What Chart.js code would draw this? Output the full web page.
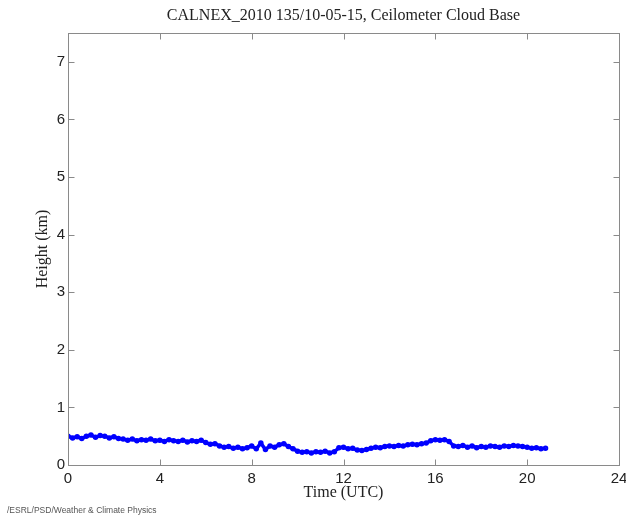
<!DOCTYPE html>
<html>
<head>
<meta charset="utf-8">
<title>CALNEX_2010 Ceilometer Cloud Base</title>
<script src="https://cdn.jsdelivr.net/npm/chart.js@4/dist/chart.umd.min.js"></script>
<style>
  html, body { margin: 0; padding: 0; background: #fff; }
  #wrap { width: 626px; height: 519px; position: relative; }
</style>
</head>
<body>
<div id="wrap"><canvas id="cloudBase"></canvas></div>
<script>
"use strict";

const titleText = "CALNEX_2010 135/10-05-15, Ceilometer Cloud Base";
const footerText = "/ESRL/PSD/Weather & Climate Physics";

// hours (UTC)
const timeUtc = [
  0.0, 0.2, 0.4, 0.6, 0.8, 1.0, 1.2, 1.4, 1.6, 1.8,
  2.0, 2.2, 2.4, 2.6, 2.8, 3.0, 3.2, 3.4, 3.6, 3.8,
  4.0, 4.2, 4.4, 4.6, 4.8, 5.0, 5.2, 5.4, 5.6, 5.8,
  6.0, 6.2, 6.4, 6.6, 6.8, 7.0, 7.2, 7.4, 7.6, 7.8,
  8.0, 8.2, 8.4, 8.6, 8.8, 9.0, 9.2, 9.4, 9.6, 9.8,
  10.0, 10.2, 10.4, 10.6, 10.8, 11.0, 11.2, 11.4, 11.6, 11.8,
  12.0, 12.2, 12.4, 12.6, 12.8, 13.0, 13.2, 13.4, 13.6, 13.8,
  14.0, 14.2, 14.4, 14.6, 14.8, 15.0, 15.2, 15.4, 15.6, 15.8,
  16.0, 16.2, 16.4, 16.6, 16.8, 17.0, 17.2, 17.4, 17.6, 17.8,
  18.0, 18.2, 18.4, 18.6, 18.8, 19.0, 19.2, 19.4, 19.6, 19.8,
  20.0, 20.2, 20.4, 20.6, 20.8
];

// cloud base height (km)
const cloudBaseKm = [
  0.50, 0.47, 0.49, 0.46, 0.50, 0.52, 0.48, 0.51, 0.50, 0.47,
  0.49, 0.46, 0.45, 0.43, 0.45, 0.42, 0.44, 0.43, 0.45, 0.42,
  0.43, 0.41, 0.44, 0.42, 0.41, 0.43, 0.40, 0.42, 0.41, 0.43,
  0.39, 0.36, 0.37, 0.33, 0.31, 0.32, 0.29, 0.31, 0.28, 0.30,
  0.33, 0.28, 0.38, 0.27, 0.33, 0.31, 0.35, 0.37, 0.32, 0.28,
  0.24, 0.22, 0.23, 0.21, 0.23, 0.22, 0.24, 0.21, 0.23, 0.30,
  0.31, 0.28, 0.29, 0.26, 0.25, 0.27, 0.29, 0.31, 0.30, 0.32,
  0.33, 0.32, 0.34, 0.33, 0.35, 0.36, 0.35, 0.37, 0.38, 0.42,
  0.44, 0.43, 0.44, 0.41, 0.33, 0.32, 0.34, 0.31, 0.33, 0.30,
  0.32, 0.31, 0.33, 0.32, 0.31, 0.33, 0.32, 0.34, 0.33, 0.32,
  0.31, 0.29, 0.30, 0.28, 0.29
];

const xTicks = [0, 4, 8, 12, 16, 20, 24];
const yTicks = [0, 1, 2, 3, 4, 5, 6, 7];

const axisColor = "#8a8a8a";
const tickLen = 6;

// box round the plot with inward ticks on all four sides
const frame = {
  id: "frame",
  afterDatasetsDraw(chart) {
    const { ctx, chartArea: a, scales } = chart;
    const l = Math.round(a.left) + 0.5;
    const r = Math.round(a.right) + 0.5;
    const t = Math.round(a.top) + 0.5;
    const b = Math.round(a.bottom) + 0.5;
    ctx.save();
    ctx.strokeStyle = axisColor;
    ctx.lineWidth = 1;
    ctx.strokeRect(l, t, r - l, b - t);
    ctx.beginPath();
    for (const v of xTicks) {
      const px = Math.round(scales.x.getPixelForValue(v)) + 0.5;
      ctx.moveTo(px, b); ctx.lineTo(px, b - tickLen);
      ctx.moveTo(px, t); ctx.lineTo(px, t + tickLen);
    }
    for (const v of yTicks) {
      const py = Math.round(scales.y.getPixelForValue(v)) + 0.5;
      ctx.moveTo(l, py); ctx.lineTo(l + tickLen, py);
      ctx.moveTo(r, py); ctx.lineTo(r - tickLen, py);
    }
    ctx.stroke();
    ctx.restore();
  },
  afterDraw(chart) {
    const { ctx, chartArea: a } = chart;
    ctx.save();
    ctx.fillStyle = "#222";
    ctx.font = "16px 'Liberation Serif', 'Times New Roman', serif";
    ctx.textAlign = "center";
    ctx.textBaseline = "middle";
    ctx.fillText(titleText, (a.left + a.right) / 2, 16);
    ctx.fillStyle = "#555";
    ctx.font = "8.5px 'Liberation Sans', Arial, sans-serif";
    ctx.textAlign = "left";
    ctx.fillText(footerText, 7, 511);
    ctx.restore();
  }
};

const points = timeUtc.map((t, i) => ({ x: t, y: cloudBaseKm[i] }));

new Chart(document.getElementById("cloudBase").getContext("2d"), {
  type: "line",
  data: {
    datasets: [
      {
        label: "Cloud base",
        data: points,
        borderColor: "#0000ff",
        backgroundColor: "#0000ff",
        borderWidth: 3.5,
        pointRadius: 1,
        pointHoverRadius: 1,
        borderJoinStyle: "round",
        tension: 0
      }
    ]
  },
  options: {
    responsive: true,
    maintainAspectRatio: false,
    animation: false,
    events: [],
    layout: { padding: { top: 33, right: 7, left: 0, bottom: 0 } },
    plugins: { legend: { display: false }, tooltip: { enabled: false } },
    scales: {
      x: {
        type: "linear",
        min: 0,
        max: 24,
        afterFit: s => {
          s.height = 54;
          s.paddingLeft = 0;
          s.paddingRight = 0;
        },
        afterBuildTicks: s => { s.ticks = xTicks.map(v => ({ value: v })); },
        grid: { display: false, drawTicks: false },
        border: { display: false },
        ticks: {
          color: "#222",
          padding: 5,
          maxRotation: 0,
          font: { family: "'Liberation Sans', Arial, sans-serif", size: 15 }
        },
        title: {
          display: true,
          text: "Time (UTC)",
          color: "#222",
          padding: { top: 0, bottom: 17 },
          font: { family: "'Liberation Serif', 'Times New Roman', serif", size: 16 }
        }
      },
      y: {
        min: 0,
        max: 7.5,
        afterFit: s => {
          s.width = 68;
          s.paddingTop = 0;
          s.paddingBottom = 0;
        },
        afterBuildTicks: s => { s.ticks = yTicks.map(v => ({ value: v })); },
        grid: { display: false, drawTicks: false },
        border: { display: false },
        ticks: {
          color: "#222",
          padding: 3,
          font: { family: "'Liberation Sans', Arial, sans-serif", size: 15 }
        },
        title: {
          display: true,
          text: "Height (km)",
          color: "#222",
          padding: { top: 33, bottom: 0 },
          font: { family: "'Liberation Serif', 'Times New Roman', serif", size: 16 }
        }
      }
    }
  },
  plugins: [frame]
});
</script>
</body>
</html>
